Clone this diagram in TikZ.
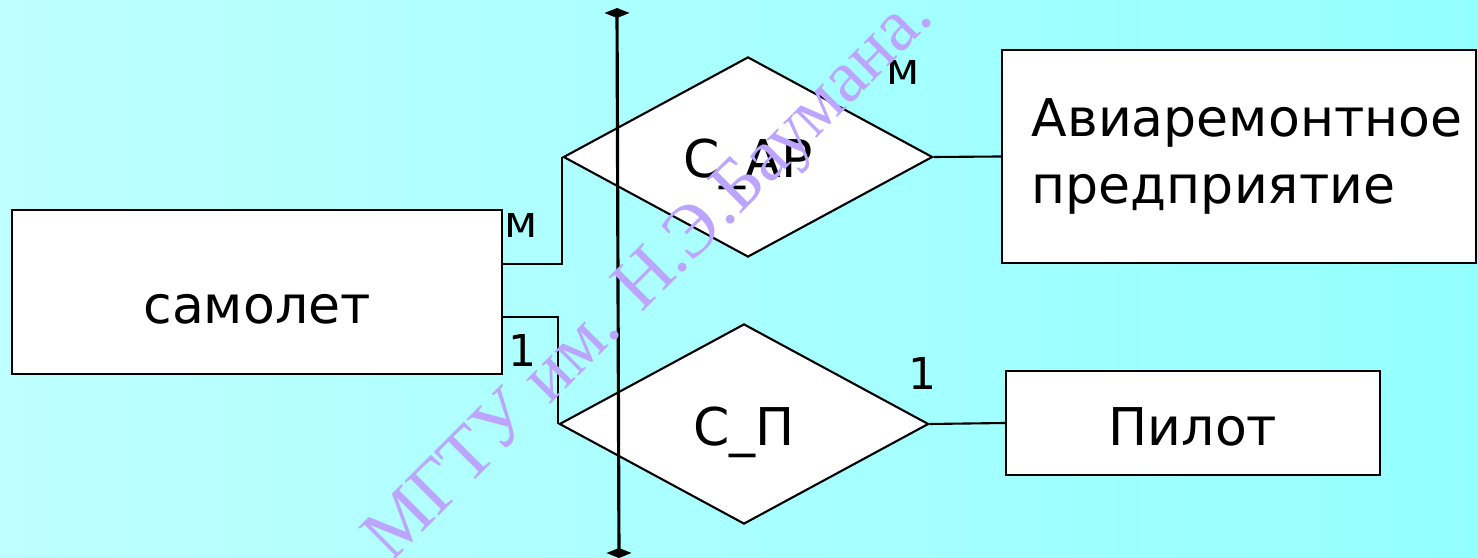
\documentclass[tikz,border=0pt]{standalone}
\usepackage{fontspec}
\setmainfont{DejaVu Sans}
\newfontfamily\wmfont{Liberation Serif}
\usetikzlibrary{shapes.geometric,arrows.meta}
\definecolor{bgl}{RGB}{190,255,255}
\definecolor{bgr}{RGB}{148,255,255}
\definecolor{wmcol}{RGB}{188,165,255}
\tikzset{
  entity/.style={draw=black, fill=white, line width=0.6pt, inner sep=0pt,
    font=\fontsize{14.8}{18.8}\selectfont},
  rel/.style={draw=black, fill=white, shape=diamond, line width=0.6pt, inner sep=0pt,
    minimum width=3.69cm, minimum height=2.0cm,
    font=\fontsize{14.8}{18.8}\selectfont, text depth=0pt},
  conn/.style={draw=black, line width=0.6pt},
  lbl/.style={font=\fontsize{12.5}{15}\selectfont, inner sep=0pt},
  axisline/.style={draw=black, line width=0.9pt,
    {Diamond[length=0.1cm,width=0.25cm]}-{Diamond[length=0.1cm,width=0.25cm]}},
  wm/.style={font=\wmfont\fontsize{21}{25}\selectfont, text=wmcol, inner sep=0pt, rotate=45}
}
\begin{document}
\begin{tikzpicture}[x=0.01cm, y=-0.01cm]
\useasboundingbox (0,0) rectangle (1478,558);
\clip (0,0) rectangle (1478,558);
\fill[left color=bgl, right color=bgr] (0,0) rectangle (1478,558);

% entities
\node[entity, minimum width=4.9cm, minimum height=1.64cm, text height=0.62cm, text depth=0pt] (sam) at (257,292) {самолет};
\node[entity, text width=4.14cm, inner xsep=0.3cm, minimum height=2.13cm, align=left] (avia) at (1239,156.5) {Авиаремонтное\\предприятие};
\node[entity, minimum width=3.74cm, minimum height=1.04cm, text height=0.44cm, text depth=0pt] (pil) at (1193,423) {Пилот};

% relationships
\node[rel, text height=0.40cm] (car) at (748,157) {С\_АР};
\node[rel, text height=0.42cm] (cp) at (744,424) {С\_П};

% connectors
\draw[conn] ([yshift=0.28cm]sam.east) -| (car.west);
\draw[conn] ([yshift=-0.25cm]sam.east) -| (cp.west);
\draw[conn] (car.east) -- (avia.west);
\draw[conn] (cp.east) -- (pil.west);

% cardinalities
\node[lbl, anchor=base] (m1) at (521,238) {м};
\node[lbl, anchor=base] (m2) at (903,85) {м};
\node[lbl, anchor=base] (o1) at (522,367) {1};
\node[lbl, anchor=base] (o2) at (922,390) {1};

% vertical axis
\coordinate (vt) at (617,8);
\coordinate (vb) at (619,558);
\draw[axisline] (vt) -- (vb);

% watermark
\node[wm, anchor=base east] (wmk) at (936,19) {МГТУ им. Н.Э.Баумана.};
\end{tikzpicture}
\end{document}
